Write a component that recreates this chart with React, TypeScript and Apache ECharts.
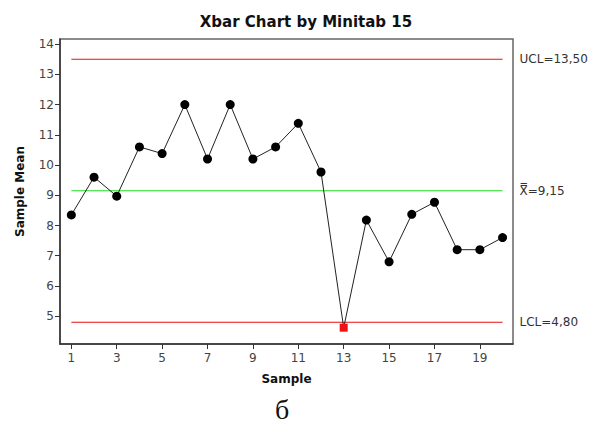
import React, { useEffect, useRef } from "react";
import * as echarts from "echarts";

const samples = [1, 2, 3, 4, 5, 6, 7, 8, 9, 10, 11, 12, 13, 14, 15, 16, 17, 18, 19, 20];
const means = [8.35, 9.6, 8.97, 10.6, 10.38, 12.0, 10.2, 12.0, 10.2, 10.6, 11.38, 9.77, 4.62, 8.18, 6.8, 8.37, 8.77, 7.2, 7.2, 7.6];
const outOfControl = [13];
const xTicks = [1, 3, 5, 7, 9, 11, 13, 15, 17, 19];
const yTicks = [5, 6, 7, 8, 9, 10, 11, 12, 13, 14];
const UCL = 13.5;
const CL = 9.15;
const LCL = 4.8;
const fmt = (v: number) => v.toFixed(2).replace(".", ",");

export default function App() {
  const ref = useRef<HTMLDivElement>(null);
  useEffect(() => {
    if (!ref.current) return;
    const chart = echarts.init(ref.current, undefined, { renderer: "svg" });
    const font = "DejaVu Sans, Verdana, sans-serif";
    const limitSeries = (y: number, color: string, text: string) => ({
      type: "line",
      data: [
        [samples[0], y],
        [samples[samples.length - 1], y],
      ],
      symbol: "none",
      silent: true,
      z: 2,
      lineStyle: { color, width: 1.2 },
      endLabel: { show: true, formatter: text, color: "#333", fontFamily: font, fontSize: 12, distance: 17 },
    });
    chart.setOption({
      animation: false,
      title: {
        text: "Xbar Chart by Minitab 15",
        left: 301,
        textAlign: "center",
        top: 9,
        textStyle: { fontFamily: font, fontWeight: "bold", fontSize: 15, color: "#111" },
      },
      grid: { left: 60, right: 89, top: 39, bottom: 88, show: true, borderColor: "#666", borderWidth: 1.5, backgroundColor: "#fff" },
      xAxis: {
        type: "value",
        min: 0.5,
        max: 20.46,
        name: "Sample",
        nameLocation: "middle",
        nameGap: 29,
        nameTextStyle: { fontFamily: font, fontWeight: "bold", fontSize: 12, color: "#111" },
        splitLine: { show: false },
        axisLine: { show: true, lineStyle: { color: "#333", width: 1.5 } },
        axisTick: { show: true, length: 5, lineStyle: { color: "#333" }, customValues: xTicks },
        axisLabel: { color: "#444", fontFamily: font, fontSize: 12, margin: 8, customValues: xTicks },
      },
      yAxis: {
        type: "value",
        min: 4.08,
        max: 14.17,
        name: "Sample Mean",
        nameLocation: "middle",
        nameGap: 34,
        nameTextStyle: { fontFamily: font, fontWeight: "bold", fontSize: 12, color: "#111" },
        splitLine: { show: false },
        axisLine: { show: true, lineStyle: { color: "#333", width: 1.5 } },
        axisTick: { show: true, length: 5, lineStyle: { color: "#333" }, customValues: yTicks },
        axisLabel: { color: "#444", fontFamily: font, fontSize: 12, margin: 6, customValues: yTicks },
      },
      series: [
        limitSeries(UCL, "#e81010", "UCL=" + fmt(UCL)),
        limitSeries(CL, "#22dd22", "X\u033F=" + fmt(CL)),
        limitSeries(LCL, "#e81010", "LCL=" + fmt(LCL)),
        {
          type: "line",
          data: samples.map((s, i) => {
            const bad = outOfControl.includes(s);
            return bad
              ? { value: [s, means[i]], symbol: "rect", symbolSize: 8, itemStyle: { color: "#ee1111" } }
              : { value: [s, means[i]] };
          }),
          symbol: "circle",
          symbolSize: 9,
          itemStyle: { color: "#000" },
          lineStyle: { color: "#222", width: 1 },
          z: 5,
        },
      ],
      graphic: [
        {
          type: "text",
          left: 275,
          top: 395,
          style: { text: "б", font: "28px 'Liberation Serif', 'DejaVu Serif', serif", fill: "#111" },
        },
      ],
    });
    return () => chart.dispose();
  }, []);
  return <div ref={ref} style={{ width: 602, height: 432, position: "absolute", left: 0, top: 0 }} />;
}
